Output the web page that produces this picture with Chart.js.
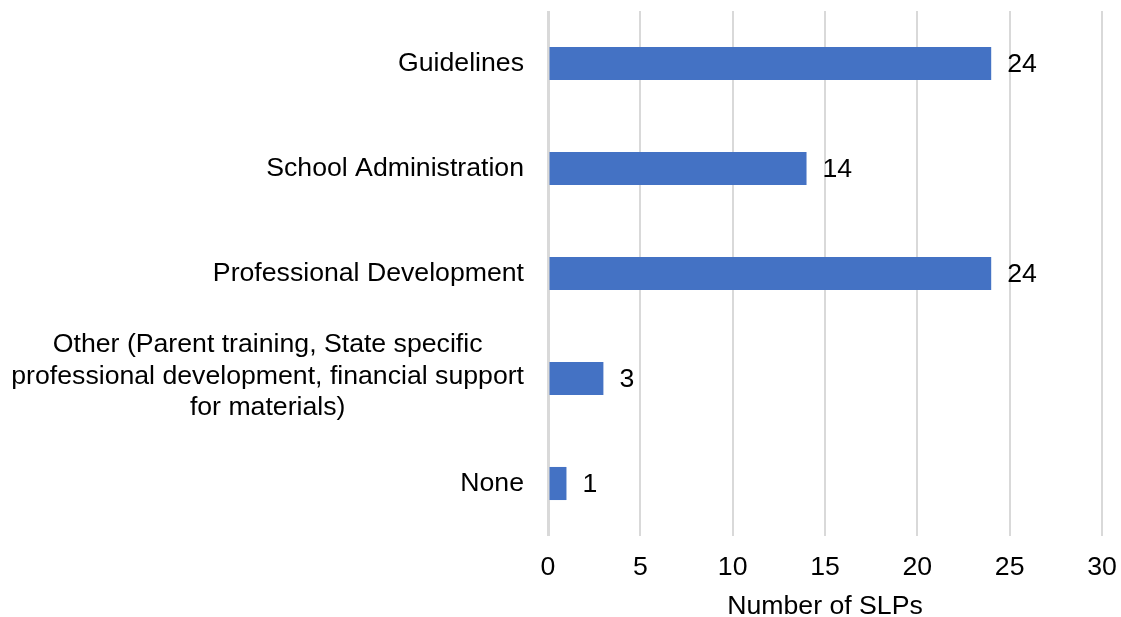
<!DOCTYPE html>
<html><head><meta charset="utf-8">
<script src="https://cdn.jsdelivr.net/npm/chart.js@4"></script>
<style>html,body{margin:0;padding:0;background:#fff}#wrap{width:1121px;height:617px;position:relative}</style>
</head><body><div id="wrap"><canvas id="c"></canvas></div>
<script>
const categories = [
  'Guidelines',
  'School Administration',
  'Professional Development',
  ['Other (Parent training, State specific', 'professional development, financial support', 'for materials)'],
  'None'
];
const values = [24, 14, 24, 3, 1];
const xTicks = [0, 5, 10, 15, 20, 25, 30];
const xTitle = 'Number of SLPs';

const FONT = "'Liberation Sans', Arial, sans-serif";
const FONT_SIZE = 26.67;
const TEXT = '#000000';
const GRID = '#d9d9d9';
const BAR = '#4472c4';

const yLabelPlugin = {
  id: 'yLabels',
  afterDraw(chart) {
    const s = chart.scales.y, ctx = chart.ctx;
    ctx.save();
    ctx.font = FONT_SIZE + 'px ' + FONT;
    ctx.fillStyle = TEXT;
    ctx.textBaseline = 'middle';
    const lh = 31.5;
    const right = s.right - 24;
    categories.forEach((lab, i) => {
      const y = s.getPixelForValue(i);
      if (Array.isArray(lab)) {
        const widest = Math.max(...lab.map(l => ctx.measureText(l).width));
        const cx = right - widest / 2;
        ctx.textAlign = 'center';
        lab.forEach((l, j) => ctx.fillText(l, cx, y - 2 + (j - (lab.length - 1) / 2) * lh));
      } else {
        ctx.textAlign = 'right';
        ctx.fillText(lab, right, y);
      }
    });
    ctx.restore();
  }
};

const valueLabelPlugin = {
  id: 'valueLabels',
  afterDatasetsDraw(chart) {
    const ctx = chart.ctx;
    const meta = chart.getDatasetMeta(0);
    ctx.save();
    ctx.font = FONT_SIZE + 'px ' + FONT;
    ctx.fillStyle = TEXT;
    ctx.textAlign = 'left';
    ctx.textBaseline = 'middle';
    meta.data.forEach((bar, i) => {
      ctx.fillText(String(values[i]), bar.x + 16, bar.y + 1);
    });
    ctx.restore();
  }
};

new Chart(document.getElementById('c'), {
  type: 'bar',
  data: {
    labels: categories,
    datasets: [{
      data: values,
      backgroundColor: BAR,
      borderWidth: 0,
      categoryPercentage: 1,
      barPercentage: 0.315
    }]
  },
  options: {
    indexAxis: 'y',
    responsive: true,
    maintainAspectRatio: false,
    animation: false,
    layout: { padding: { top: 11, right: 19, left: 0, bottom: 0 } },
    plugins: { legend: { display: false }, tooltip: { enabled: false } },
    scales: {
      x: {
        min: xTicks[0],
        max: xTicks[xTicks.length - 1],
        ticks: { stepSize: xTicks[1] - xTicks[0], padding: 16, color: TEXT, font: { family: FONT, size: FONT_SIZE } },
        grid: { color: GRID, lineWidth: c => (c.tick && c.tick.value === 0 ? 3 : 2), drawTicks: false },
        border: { display: false },
        title: { display: true, text: xTitle, color: TEXT, font: { family: FONT, size: FONT_SIZE, lineHeight: 0.8 }, padding: 0 },
        afterFit(s) { s.height = 81; s.paddingLeft = 0; s.paddingRight = 0; }
      },
      y: {
        ticks: { display: false },
        grid: { display: false },
        border: { display: false },
        afterFit(s) { s.width = 548; }
      }
    }
  },
  plugins: [yLabelPlugin, valueLabelPlugin]
});
</script>
</body></html>
